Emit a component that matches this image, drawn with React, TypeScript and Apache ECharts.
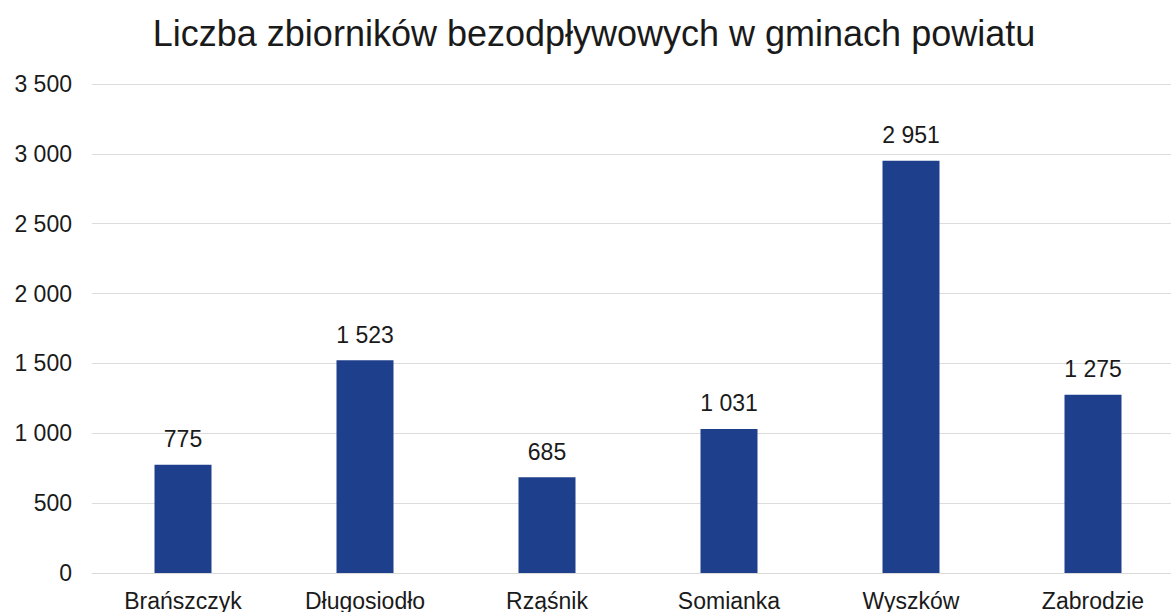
import React, { useEffect, useRef } from "react";
import * as echarts from "echarts";

const categories = ["Brańszczyk", "Długosiodło", "Rząśnik", "Somianka", "Wyszków", "Zabrodzie"];
const values = [775, 1523, 685, 1031, 2951, 1275];
const yTicks = [0, 500, 1000, 1500, 2000, 2500, 3000, 3500];

const fmt = (v: number) => {
  const s = String(Math.round(v));
  return s.replace(/\B(?=(\d{3})+(?!\d))/g, " ");
};

export default function App() {
  const ref = useRef<HTMLDivElement>(null);
  useEffect(() => {
    if (!ref.current) return;
    const chart = echarts.init(ref.current, undefined, { renderer: "svg" });
    const font = "'Liberation Sans', Arial, sans-serif";
    chart.setOption({
      animation: false,
      backgroundColor: "#ffffff",
      title: {
        text: "Liczba zbiorników bezodpływowych w gminach powiatu",
        left: 589,
        textAlign: "center",
        top: 10,
        textStyle: { fontFamily: font, fontSize: 36, fontWeight: "normal", color: "#1a1a1a" },
      },
      grid: { left: 92, top: 84, width: 1092, height: 489, containLabel: false },
      xAxis: {
        type: "category",
        data: categories,
        axisLine: { lineStyle: { color: "#d9d9d9", width: 1 } },
        axisTick: { show: false },
        axisLabel: { fontFamily: font, fontSize: 23, color: "#1a1a1a", margin: 16 },
      },
      yAxis: {
        type: "value",
        min: yTicks[0],
        max: yTicks[yTicks.length - 1],
        interval: 500,
        axisLine: { show: false },
        axisTick: { show: false },
        splitLine: { lineStyle: { color: "#dcdcdc", width: 1 } },
        axisLabel: { fontFamily: font, fontSize: 23, color: "#1a1a1a", margin: 20, formatter: (v: number) => fmt(v) },
      },
      series: [
        {
          type: "bar",
          data: values,
          barWidth: 57,
          itemStyle: { color: "#1e3f8b" },
          label: {
            show: true,
            position: "top",
            distance: 14,
            fontFamily: font,
            fontSize: 23,
            color: "#1a1a1a",
            formatter: (p: any) => fmt(p.value),
          },
        },
      ],
    });
    return () => chart.dispose();
  }, []);
  return (
    <div style={{ position: "absolute", left: 0, top: 0, width: 1171, height: 612, overflow: "hidden" }}>
      <div ref={ref} style={{ width: 1200, height: 612 }} />
    </div>
  );
}
